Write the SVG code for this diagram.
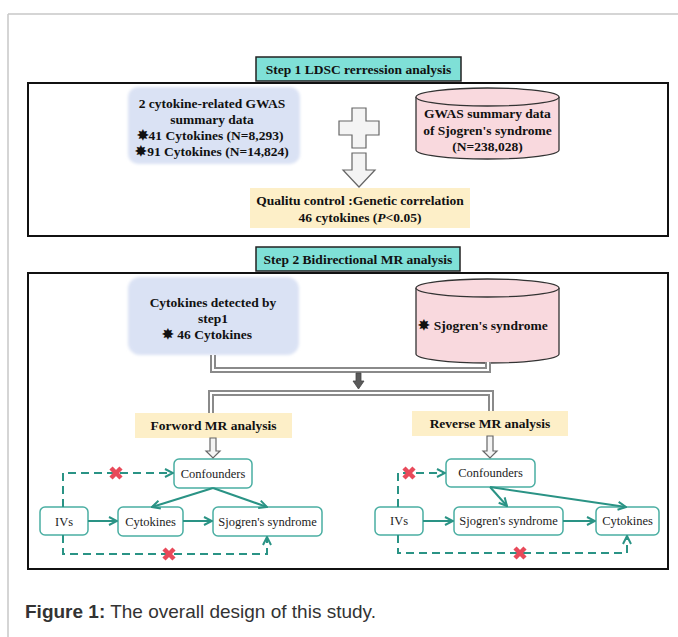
<svg xmlns="http://www.w3.org/2000/svg" width="678" height="637" viewBox="0 0 678 637">
<style>
.b{font-family:"Liberation Serif","Times New Roman",serif;font-weight:bold;font-size:13.5px;fill:#111;text-anchor:middle}
.r{font-family:"Liberation Serif","Times New Roman",serif;font-size:12.5px;fill:#222;text-anchor:middle}
.step{fill:#7fe0d7;stroke:#222;stroke-width:1.5}
.frame{fill:none;stroke:#111;stroke-width:2}
.blue{fill:#dae2f4}
.yel{fill:#fdefc8}
.cyl{fill:#f9d9de;stroke:#333;stroke-width:1.3}
.node{fill:#fff;stroke:#4aaea2;stroke-width:1.5}
.ar{fill:none;stroke:#2a9385;stroke-width:2;marker-end:url(#m)}
.da{fill:none;stroke:#2a9385;stroke-width:2;stroke-dasharray:8 5;marker-end:url(#m)}
.x{stroke:#e84a5a;stroke-width:4.5}
.dbo{fill:none;stroke:#8a8a8a;stroke-width:6}
.dbi{fill:none;stroke:#fff;stroke-width:2}
.hol{fill:#f4f4f4;stroke:#666;stroke-width:1.2}
</style>
<defs>
<marker id="m" viewBox="0 0 10 10" refX="9" refY="5" markerWidth="10" markerHeight="10" markerUnits="userSpaceOnUse" orient="auto">
<path d="M1,1 L9,5 L1,9" fill="none" stroke="#2a9385" stroke-width="2"/>
</marker>
<filter id="soft" x="-5%" y="-5%" width="110%" height="110%"><feGaussianBlur stdDeviation="1.5"/></filter>
</defs>
<rect width="678" height="637" fill="#fff"/>
<path d="M8,14 H678 M8,14 V637" fill="none" stroke="#c8c8c8" stroke-width="1.5"/>

<g id="step1">
<rect class="step" x="256" y="57" width="205" height="24"/>
<text class="b" x="358.5" y="74">Step 1 LDSC rerression analysis</text>
</g>
<rect class="frame" x="28" y="83" width="640" height="153"/>

<g id="gwas-cytokine">
<rect class="blue" x="128" y="87" width="172" height="77" rx="10" filter="url(#soft)"/>
<text class="b" x="212" y="108">2 cytokine-related GWAS</text>
<text class="b" x="212" y="124">summary data</text>
<text class="b" x="210" y="140">✸41 Cytokines (N=8,293)</text>
<text class="b" x="212" y="156">✸91 Cytokines (N=14,824)</text>
</g>

<g id="plus">
<path class="hol" d="M352,108 H366 V121 H379 V135 H366 V148 H352 V135 H339 V121 H352 Z"/>
</g>
<g id="down1">
<path class="hol" d="M352,153 H366 V170 H375 L359,187 L343,170 H352 Z"/>
</g>

<g id="gwas-ss">
<path class="cyl" d="M416,97 V150 A71.5,9 0 0 0 559,150 V97"/>
<ellipse class="cyl" cx="487.5" cy="97" rx="71.5" ry="9"/>
<text class="b" x="487.5" y="118">GWAS summary data</text>
<text class="b" x="487.5" y="135">of Sjogren's syndrome</text>
<text class="b" x="487.5" y="151">(N=238,028)</text>
</g>

<g id="qc">
<rect class="yel" x="250" y="188" width="220" height="40"/>
<text class="b" x="360" y="205">Qualitu control :Genetic correlation</text>
<text class="b" x="360" y="222">46 cytokines (<tspan font-style="italic">P</tspan>&lt;0.05)</text>
</g>

<g id="step2">
<rect class="step" x="256" y="247" width="204" height="24"/>
<text class="b" x="358" y="264">Step 2 Bidirectional MR analysis</text>
</g>
<rect class="frame" x="28" y="273" width="640" height="296"/>

<g id="cyto-detected">
<rect class="blue" x="128" y="277" width="171" height="78" rx="12" filter="url(#soft)"/>
<text class="b" x="213" y="307">Cytokines detected by</text>
<text class="b" x="213" y="323">step1</text>
<text class="b" x="207" y="339">✸ 46 Cytokines</text>
</g>

<g id="ss">
<path class="cyl" d="M416,288 V354 A71.5,9 0 0 0 559,354 V288"/>
<ellipse class="cyl" cx="487.5" cy="288" rx="71.5" ry="9"/>
<text class="b" x="483" y="330">✸ Sjogren's syndrome</text>
</g>

<g id="forward-label">
<rect class="yel" x="135" y="413" width="157" height="25"/>
<text class="b" x="213.5" y="430">Forword MR analysis</text>
</g>
<g id="reverse-label">
<rect class="yel" x="412" y="411" width="156" height="25"/>
<text class="b" x="490" y="428">Reverse MR analysis</text>
</g>

<g id="f-conf"><rect class="node" x="174" y="459" width="78" height="29" rx="5"/><text class="r" x="213" y="478">Confounders</text></g>
<g id="f-ivs"><rect class="node" x="40" y="507" width="48" height="28" rx="5"/><text class="r" x="64" y="526">IVs</text></g>
<g id="f-cyto"><rect class="node" x="118" y="507" width="65" height="29" rx="5"/><text class="r" x="150.5" y="526">Cytokines</text></g>
<g id="f-ss"><rect class="node" x="213" y="507" width="109" height="29" rx="5"/><text class="r" x="267.5" y="526">Sjogren's syndrome</text></g>

<g id="r-conf"><rect class="node" x="446" y="459" width="89" height="28" rx="5"/><text class="r" x="490.5" y="477">Confounders</text></g>
<g id="r-ivs"><rect class="node" x="375" y="507" width="48" height="28" rx="5"/><text class="r" x="399" y="525">IVs</text></g>
<g id="r-ss"><rect class="node" x="454" y="507" width="109" height="28" rx="5"/><text class="r" x="508.5" y="525">Sjogren's syndrome</text></g>
<g id="r-cyto"><rect class="node" x="596" y="507" width="63" height="28" rx="5"/><text class="r" x="627.5" y="525">Cytokines</text></g>

<g id="connectors">
<path class="dbo" d="M213,355 V370 H488 V362"/>
<path class="dbi" d="M213,355 V370 H488 V362"/>
<path d="M356,373 H361 V381 H364 L358.5,389 L353,381 H356 Z" fill="#5a5a5a" stroke="#444" stroke-width="0.8"/>
<path class="dbo" d="M211,413 V393 H491 V411"/>
<path class="dbi" d="M211,413 V393 H491 V411"/>
<path class="hol" d="M210,438 H216 V451 H220 L213,458 L206,451 H210 Z"/>
<path class="hol" d="M487,436 H493 V451 H497 L490,458 L483,451 H487 Z"/>

<path class="ar" d="M88,521 H117"/>
<path class="ar" d="M183,521 H212"/>
<path class="ar" d="M213,488 L152,507"/>
<path class="ar" d="M213,488 L267,507"/>
<path class="da" d="M63,507 V473 H173"/>
<path class="da" d="M63,535 V554 H267 V537"/>

<path class="ar" d="M423,521 H453"/>
<path class="ar" d="M563,521 H595"/>
<path class="ar" d="M490,487 L507,506"/>
<path class="ar" d="M490,487 L626,507"/>
<path class="da" d="M398,507 V473 H445"/>
<path class="da" d="M398,535 V553 H627 V536"/>

<path class="x" d="M111,468 L121,478 M121,468 L111,478"/>
<path class="x" d="M164,549 L174,559 M174,549 L164,559"/>
<path class="x" d="M404,468 L414,478 M414,468 L404,478"/>
<path class="x" d="M515,548 L525,558 M525,548 L515,558"/>
</g>

<text x="25" y="618" font-family="'Liberation Sans',Arial,sans-serif" font-size="19" fill="#333"><tspan font-weight="bold">Figure 1:</tspan> The overall design of this study.</text>
</svg>
